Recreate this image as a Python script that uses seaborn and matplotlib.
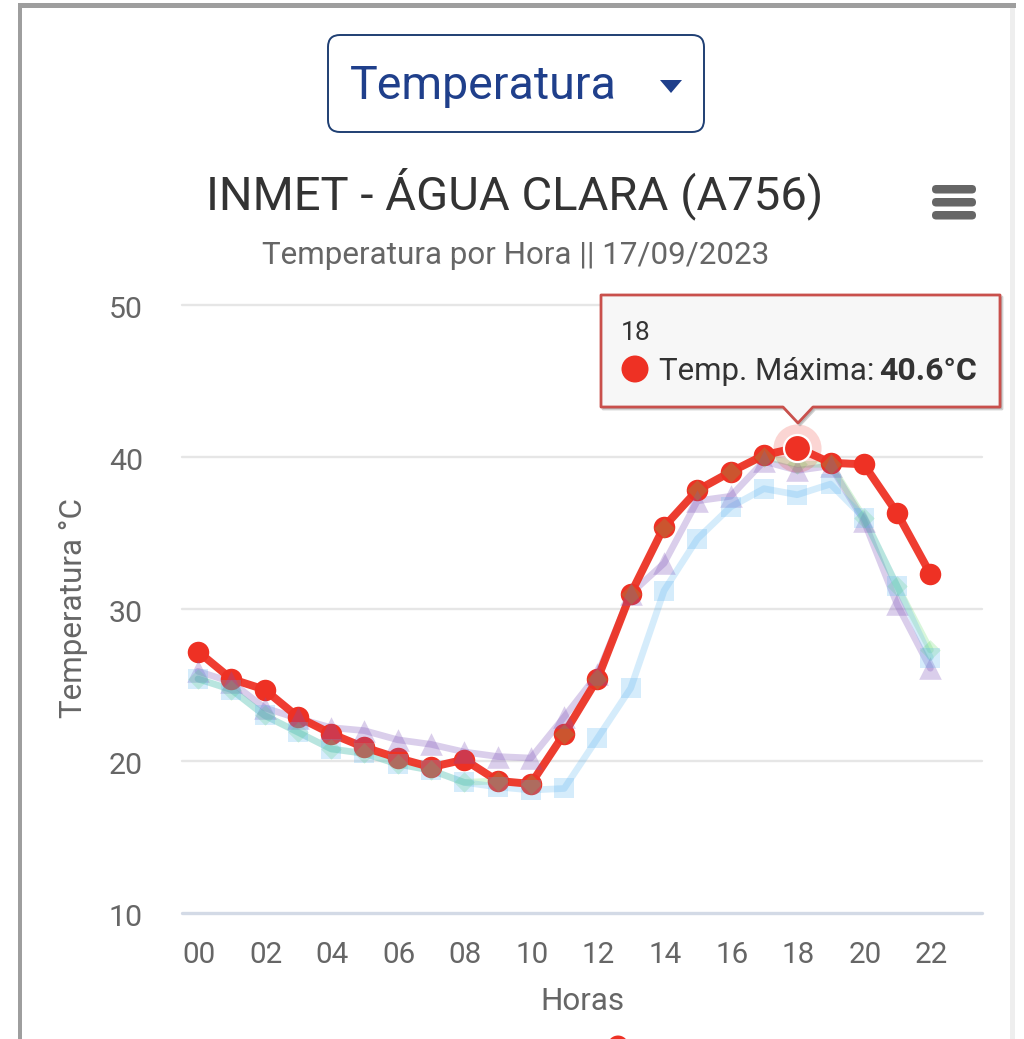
import matplotlib
matplotlib.use("Agg")
import matplotlib.pyplot as plt
import matplotlib.transforms as mtrans
import seaborn as sns
import pandas as pd
from matplotlib.patches import FancyBboxPatch, Polygon, Circle, Rectangle

hours = list(range(23))
temp_max = [27.2, 25.4, 24.7, 22.9, 21.8, 20.9, 20.2, 19.6, 20.1, 18.7, 18.5, 21.8,
            25.4, 31.0, 35.4, 37.8, 39.0, 40.1, 40.6, 39.6, 39.5, 36.3, 32.3]
temp_min = [25.9, 25.2, 23.5, 22.8, 22.2, 22.0, 21.4, 21.1, 20.6, 20.3, 20.2, 22.9,
            25.7, 31.0, 33.0, 37.1, 37.4, 39.7, 39.1, 39.4, 35.8, 30.3, 26.1]
temp_inst = [25.4, 24.7, 23.0, 21.9, 20.8, 20.5, 19.8, 19.4, 18.6, 18.7, 18.5, 21.8,
             25.4, 31.0, 35.3, 37.8, 39.0, 40.0, 39.5, 39.5, 36.0, 31.5, 27.3]
temp_orv = [25.4, 24.7, 23.0, 21.9, 20.8, 20.5, 19.8, 19.4, 18.6, 18.3, 18.1, 18.2,
            21.5, 24.8, 31.2, 34.6, 36.7, 37.9, 37.5, 38.2, 36.0, 31.5, 26.8]
y_ticks = [10, 20, 30, 40, 50]
x_labels = [f"{h:02d}" for h in range(0, 23, 2)]
RED = "#ee3124"

sns.set_theme(style="white")
plt.rcParams["font.family"] = ["Roboto", "DejaVu Sans"]

W, H = 1024, 1039
fig = plt.figure(figsize=(W / 100, H / 100), dpi=100, facecolor="white")

# main plot area
top_px, bot_px = 304.5, 913.3
ax = fig.add_axes([182 / W, 1 - bot_px / H, 800 / W, (bot_px - top_px) / H])
ax.set_facecolor("none")
ax.set_xlim(-0.48, 23.55)
ax.set_ylim(10, 50)
for s in ax.spines.values():
    s.set_visible(False)
ax.set_yticks(y_ticks)
for t in y_ticks[1:]:
    ax.axhline(t, color="#e6e6e6", lw=1.7, zorder=0, clip_on=False)
ax.axhline(10, color="#d3dae6", lw=2.4, zorder=0, clip_on=False)

faded = [
    (temp_min, "#7b4fb8", "^", 265, 0.28),
    (temp_inst, "#4fd65a", "D", 110, 0.22),
    (temp_orv, "#5ab4f0", "s", 225, 0.25),
]
# faded lines, then the active line, then markers
for vals, col, mk, sz, a in faded:
    df = pd.DataFrame({"h": hours, "v": vals})
    sns.lineplot(data=df, x="h", y="v", ax=ax, color=col, lw=4.8, alpha=a, zorder=2,
                 errorbar=None, legend=False)
df_max = pd.DataFrame({"h": hours, "v": temp_max})
sns.lineplot(data=df_max, x="h", y="v", ax=ax, color=RED, lw=5.7, alpha=0.94, zorder=3,
             errorbar=None, legend=False)
sns.scatterplot(data=df_max, x="h", y="v", ax=ax, color=RED, s=240, linewidth=0, zorder=4, legend=False)
for vals, col, mk, sz, a in faded:
    df = pd.DataFrame({"h": hours, "v": vals})
    sns.scatterplot(data=df, x="h", y="v", ax=ax, color=col, marker=mk, s=sz, alpha=a,
                    linewidth=0, zorder=5, legend=False)

# hovered point
sns.scatterplot(x=[hours[18]], y=[temp_max[18]], ax=ax, s=1200, color=RED, alpha=0.2,
                linewidth=0, zorder=7, legend=False)
sns.scatterplot(x=[hours[18]], y=[temp_max[18]], ax=ax, s=380, color=RED, edgecolor="white",
                linewidth=1.6, zorder=8, legend=False)

ax.set_xticks(list(range(0, 23, 2)))
ax.set_xticklabels(x_labels)
ax.tick_params(axis="x", length=0, pad=20, labelsize=21.3, labelcolor="#666666")
ax.tick_params(axis="y", length=0, pad=28, labelsize=21.8, labelcolor="#666666")
shift_y = mtrans.ScaledTranslation(0, -2 / 100, fig.dpi_scale_trans)
for lab in ax.get_yticklabels():
    lab.set_transform(lab.get_transform() + shift_y)
shift_x = mtrans.ScaledTranslation(1 / 100, 0, fig.dpi_scale_trans)
for lab in ax.get_xticklabels():
    lab.set_transform(lab.get_transform() + shift_x)
ax.set_xlabel("")
ax.set_ylabel("")

# overlay in pixel coordinates
ov = fig.add_axes([0, 0, 1, 1], zorder=10)
ov.set_xlim(0, W)
ov.set_ylim(H, 0)
ov.axis("off")
ov.patch.set_alpha(0)

# page frame
ov.add_patch(Rectangle((18, 3), 998, 5, color="#9e9e9e", lw=0))
ov.add_patch(Rectangle((18, 3), 4, H, color="#9e9e9e", lw=0))
ov.add_patch(Rectangle((1010, 8), 5, H, color="#eeeeee", lw=0))

# dropdown
ov.add_patch(FancyBboxPatch((338, 45), 356, 77, boxstyle="round,pad=10,rounding_size=12",
                            fc="white", ec="#1f3f73", lw=1.4))
ov.text(350, 86, "Temperatura", fontsize=33.5, color="#1f3f8b", va="center", ha="left")
ov.add_patch(Polygon([[660, 80], [682, 80], [671, 93]], closed=True, fc="#1f3f8b", ec="none"))

# titles
ov.text(515, 194, "INMET - ÁGUA CLARA (A756)", fontsize=34, color="#333333", va="center", ha="center")
ov.text(516, 256, "Temperatura por Hora || 17/09/2023", fontsize=22.6, color="#666666", va="center", ha="center")

# menu icon
for y0, y1 in ((185, 193.5), (198, 206.5), (211, 219.5)):
    r = (y1 - y0) / 2
    ov.add_patch(FancyBboxPatch((932 + r, y0 + r), 44 - 2 * r, 0.01,
                                boxstyle=f"round,pad={r},rounding_size={r}", fc="#666666", ec="none"))

# axis titles
ov.text(73, 608, "Temperatura °C", fontsize=22.6, color="#666666", rotation=90, va="center", ha="center")
ov.text(582, 1002, "Horas", fontsize=22.6, color="#666666", va="center", ha="center")

# tooltip
tx0, tx1, ty0, ty1 = 601, 1000, 295, 407
outline = [[tx0, ty0], [tx1, ty0], [tx1, ty1], [813, ty1], [798, 423], [783, ty1], [tx0, ty1]]
ov.add_patch(Polygon([[x + 2, y + 2] for x, y in outline], closed=True, fc="#999999", ec="#999999",
                     lw=2, alpha=0.45, joinstyle="round"))
ov.add_patch(Polygon(outline, closed=True, fc="#f7f7f7", ec="#c9504c", lw=2.0, joinstyle="round"))
ov.text(621, 333, "18", fontsize=19, color="#333333", va="center", ha="left")
ov.add_patch(Circle((635, 369), 13.5, fc=RED, ec="none"))
ov.text(659, 371, "Temp. Máxima:", fontsize=22.5, color="#333333", va="center", ha="left")
ov.text(977, 371, "40.6°C", fontsize=23, color="#333333", va="center", ha="right", fontweight="bold")

# legend marker clipped by the bottom edge
ov.add_patch(Circle((618, 1046), 10.5, fc=RED, ec="none", clip_on=True))

fig.savefig("out.png", dpi=100)
